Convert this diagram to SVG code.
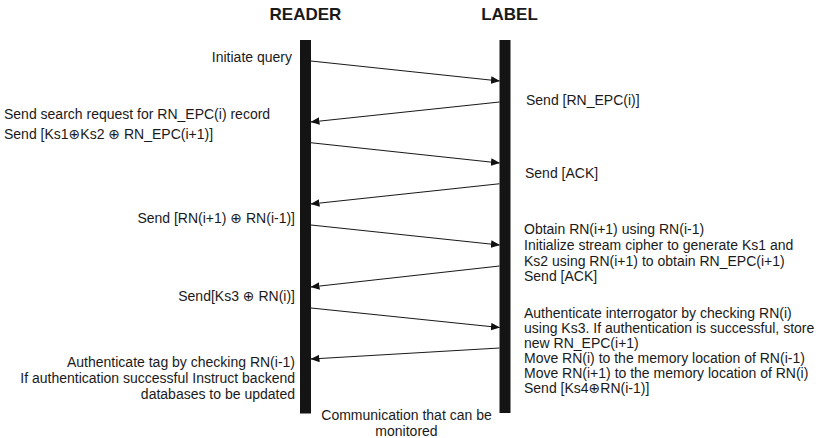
<svg xmlns="http://www.w3.org/2000/svg" width="825" height="438" viewBox="0 0 825 438">
<defs>
<marker id="ah" markerUnits="userSpaceOnUse" markerWidth="9" markerHeight="8" refX="8.5" refY="3.75" orient="auto">
<path d="M0,0 L9,3.75 L0,7.5 z" fill="#111"/>
</marker>
<style>
text{font-family:"Liberation Sans",Arial,"DejaVu Sans",sans-serif;font-size:14px;fill:#1a1a1a}
.h{font-weight:bold;font-size:17px;text-anchor:middle}
.r{text-anchor:end}
.m{text-anchor:middle}
.bar{fill:#141414}
.c line{stroke:#1a1a1a;stroke-width:1.1;marker-end:url(#ah)}
</style>
</defs>
<rect width="825" height="438" fill="#fff"/>
<g id="reader">
<text class="h" x="305.5" y="19.5">READER</text>
<rect class="bar" x="300" y="40" width="11" height="373.5"/>
</g>
<g id="label">
<text class="h" x="509.5" y="19.5">LABEL</text>
<rect class="bar" x="499.5" y="40" width="11" height="373"/>
</g>
<g id="connectors" class="c">
<line x1="311" y1="61" x2="499.5" y2="81"/>
<line x1="499.5" y1="102" x2="311" y2="122"/>
<line x1="311" y1="142.7" x2="499.5" y2="163"/>
<line x1="499.5" y1="183.7" x2="311" y2="204"/>
<line x1="311" y1="225" x2="499.5" y2="245"/>
<line x1="499.5" y1="266" x2="311" y2="287"/>
<line x1="311" y1="308" x2="499.5" y2="327.5"/>
<line x1="499.5" y1="348" x2="311" y2="359"/>
</g>
<g id="reader-notes">
<text class="r" x="292" y="62">Initiate query</text>
<text x="4" y="119">Send search request for RN_EPC(i) record</text>
<text x="4" y="139">Send [Ks1⊕Ks2 ⊕ RN_EPC(i+1)]</text>
<text class="r" x="295" y="223">Send [RN(i+1) ⊕ RN(i-1)]</text>
<text class="r" x="295" y="301">Send[Ks3 ⊕ RN(i)]</text>
<text class="r" x="295" y="367">Authenticate tag by checking RN(i-1)</text>
<text class="r" x="295" y="383">If authentication successful Instruct backend</text>
<text class="r" x="295" y="399">databases to be updated</text>
</g>
<g id="label-notes">
<text x="526" y="104.5">Send [RN_EPC(i)]</text>
<text x="525" y="178">Send [ACK]</text>
<text x="524" y="234">Obtain RN(i+1) using RN(i-1)</text>
<text x="524" y="250">Initialize stream cipher to generate Ks1 and</text>
<text x="524" y="265.5">Ks2 using RN(i+1) to obtain RN_EPC(i+1)</text>
<text x="524" y="281">Send [ACK]</text>
<text x="524" y="318">Authenticate interrogator by checking RN(i)</text>
<text x="524" y="333">using Ks3. If authentication is successful, store</text>
<text x="524" y="348">new RN_EPC(i+1)</text>
<text x="524" y="363">Move RN(i) to the memory location of RN(i-1)</text>
<text x="524" y="378">Move RN(i+1) to the memory location of RN(i)</text>
<text x="524" y="393">Send [Ks4⊕RN(i-1)]</text>
</g>
<g id="channel-note">
<text class="m" x="406.5" y="420">Communication that can be</text>
<text class="m" x="406.5" y="435.5">monitored</text>
</g>
</svg>
